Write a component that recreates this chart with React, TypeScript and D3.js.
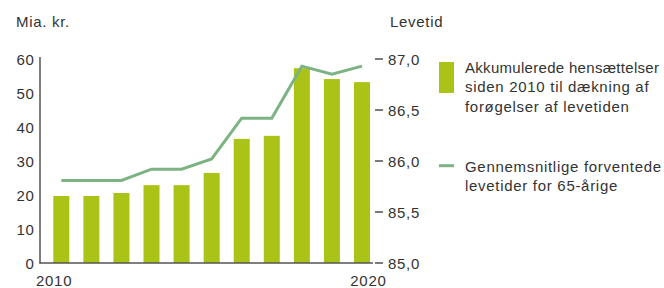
import React from "react";
import * as d3 from "d3";

const years = [2010, 2011, 2012, 2013, 2014, 2015, 2016, 2017, 2018, 2019, 2020];
const provisions = [19.7, 19.7, 20.6, 22.9, 22.9, 26.5, 36.5, 37.4, 57.3, 54.1, 53.2];
const lifeExp = [85.81, 85.81, 85.81, 85.92, 85.92, 86.02, 86.42, 86.42, 86.93, 86.85, 86.93];
const leftTicks = [0, 10, 20, 30, 40, 50, 60];
const rightTicks = [85.0, 85.5, 86.0, 86.5, 87.0];
const legendBar = ["Akkumulerede hensættelser", "siden 2010 til dækning af", "forøgelser af levetiden"];
const legendLine = ["Gennemsnitlige forventede", "levetider for 65-årige"];

const BAR = "#abc317";
const LINE = "#7db383";
const TEXT = "#333333";
const AXIS = "#555555";
const FONT = "'Liberation Sans', Arial, sans-serif";
const LS = 0.7;

export default function App() {
  const x = d3.scaleLinear().domain([2010, 2020]).range([61.3, 362]);
  const yL = d3.scaleLinear().domain([0, 60]).range([263, 59]);
  const yR = d3.scaleLinear().domain([85, 87]).range([263, 59]);
  const bw = 16;
  const line = d3
    .line<number>()
    .x((_, i) => x(years[i]))
    .y((d) => yR(d));

  return (
    <svg
      width={664}
      height={288}
      style={{ position: "absolute", left: 0, top: 0, fontFamily: FONT, letterSpacing: LS }}
    >
      <text x={16} y={27} fontSize={15} fill={TEXT}>Mia. kr.</text>
      <text x={390} y={27} fontSize={15} fill={TEXT}>Levetid</text>

      {provisions.map((v, i) => (
        <rect
          key={i}
          x={x(years[i]) - bw / 2}
          y={yL(v)}
          width={bw}
          height={yL(0) - yL(v)}
          fill={BAR}
        />
      ))}

      <path d={line(lifeExp) || ""} fill="none" stroke={LINE} strokeWidth={3} strokeLinejoin="miter" />

      <line x1={40} x2={40} y1={57} y2={263.5} stroke={AXIS} strokeWidth={1.5} />
      <line x1={39.3} x2={373} y1={263} y2={263} stroke={AXIS} strokeWidth={1.5} />

      {leftTicks.map((t) => (
        <text key={t} x={34.5} y={yL(t) + 5.5} fontSize={15} fill={TEXT} textAnchor="end">
          {t}
        </text>
      ))}

      {rightTicks.map((t) => (
        <g key={t}>
          <line x1={375} x2={383} y1={yR(t)} y2={yR(t)} stroke={TEXT} strokeWidth={1.3} />
          <text x={388} y={yR(t) + 5.5} fontSize={15} fill={TEXT}>
            {d3.format(".1f")(t).replace(".", ",")}
          </text>
        </g>
      ))}

      <text x={36} y={286} fontSize={15} fill={TEXT}>{years[0]}</text>
      <text x={386.5} y={286} fontSize={15} fill={TEXT} textAnchor="end">{years[years.length - 1]}</text>

      <rect x={439} y={62} width={15} height={31} fill={BAR} />
      {legendBar.map((s, i) => (
        <text
          key={s}
          x={465}
          y={72.5 + i * 19.5}
          fontSize={15}
          fill={TEXT}
          style={i === 0 ? { letterSpacing: 0.3 } : undefined}
        >
          {s}
        </text>
      ))}

      <line x1={439} x2={454} y1={165.7} y2={165.7} stroke={LINE} strokeWidth={3} />
      {legendLine.map((s, i) => (
        <text key={s} x={465} y={172 + i * 19} fontSize={15} fill={TEXT}>{s}</text>
      ))}
    </svg>
  );
}
